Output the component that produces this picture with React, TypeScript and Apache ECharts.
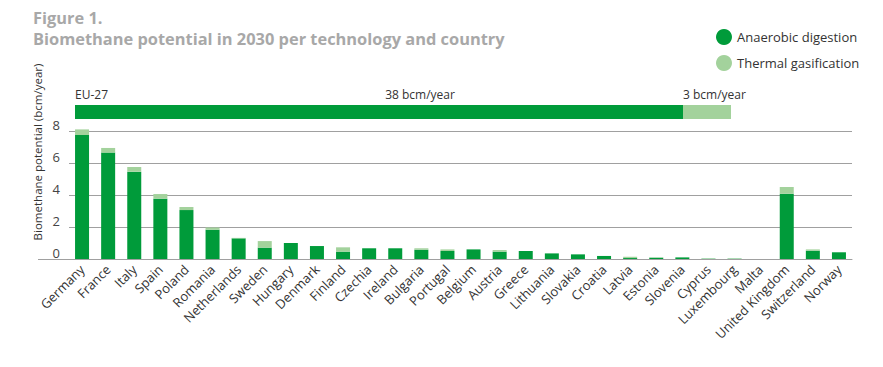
import React, { useEffect, useRef } from "react";
import * as echarts from "echarts";

const countries = [
  "Germany", "France", "Italy", "Spain", "Poland", "Romania", "Netherlands", "Sweden",
  "Hungary", "Denmark", "Finland", "Czechia", "Ireland", "Bulgaria", "Portugal", "Belgium",
  "Austria", "Greece", "Lithuania", "Slovakia", "Croatia", "Latvia", "Estonia", "Slovenia",
  "Cyprus", "Luxembourg", "Malta", "United Kingdom", "Switzerland", "Norway",
];
const anaerobic = [
  7.75, 6.65, 5.46, 3.77, 3.06, 1.83, 1.29, 0.71, 1.0, 0.81, 0.46, 0.67, 0.67, 0.58, 0.5, 0.6,
  0.46, 0.5, 0.35, 0.29, 0.19, 0.06, 0.08, 0.1, 0.02, 0.02, 0, 4.08, 0.52, 0.42,
];
const thermal = [
  0.35, 0.29, 0.29, 0.29, 0.19, 0.14, 0.03, 0.41, 0.0, 0.0, 0.27, 0.0, 0.0, 0.09, 0.1, 0.0,
  0.1, 0.0, 0.0, 0.0, 0.0, 0.08, 0.02, 0.0, 0.02, 0.02, 0, 0.42, 0.08, 0,
];
const euCategory = ["EU-27"];
const euAnaerobic = [38];
const euThermal = [3];
const yTicks = [0, 2, 4, 6, 8];

const DARK = "#009b3a";
const LIGHT = "#a3d29c";
const FONT = "Open Sans";

export default function App() {
  const ref = useRef<HTMLDivElement>(null);
  useEffect(() => {
    const chart = echarts.init(ref.current!, null, { renderer: "svg" });
    chart.setOption({
      animation: false,
      textStyle: { fontFamily: FONT },
      legend: {
        orient: "vertical",
        left: 716,
        top: 29,
        padding: 0,
        icon: "circle",
        itemWidth: 16,
        itemHeight: 16,
        itemGap: 10,
        data: ["Anaerobic digestion", "Thermal gasification"],
        textStyle: { fontSize: 13, color: "#333", fontFamily: FONT },
      },
      grid: [
        { left: 69, width: 783, top: 131, height: 128 },
        { left: 75, width: 656, top: 105, height: 14 },
      ],
      xAxis: [
        {
          type: "category",
          gridIndex: 0,
          data: countries,
          axisTick: { show: false },
          axisLine: { lineStyle: { color: "#a0a0a0" } },
          axisLabel: {
            rotate: 45,
            interval: 0,
            fontSize: 13,
            color: "#333",
            margin: 8,
            fontFamily: FONT,
          },
        },
        {
          type: "value",
          gridIndex: 1,
          min: 0,
          max: euAnaerobic[0] + euThermal[0],
          show: false,
        },
      ],
      yAxis: [
        {
          type: "value",
          gridIndex: 0,
          min: yTicks[0],
          max: yTicks[yTicks.length - 1],
          interval: 2,
          axisLine: { show: false },
          axisTick: { show: false },
          splitLine: { lineStyle: { color: "#a0a0a0", width: 1 } },
          axisLabel: {
            fontSize: 13,
            color: "#444",
            margin: 9,
            verticalAlign: "bottom",
            fontFamily: FONT,
          },
        },
        {
          type: "category",
          gridIndex: 1,
          data: euCategory,
          show: false,
        },
      ],
      series: [
        {
          name: "Anaerobic digestion",
          type: "bar",
          stack: "c",
          xAxisIndex: 0,
          yAxisIndex: 0,
          data: anaerobic,
          barWidth: 14,
          clip: false,
          itemStyle: { color: DARK },
        },
        {
          name: "Thermal gasification",
          type: "bar",
          stack: "c",
          xAxisIndex: 0,
          yAxisIndex: 0,
          data: thermal,
          barWidth: 14,
          clip: false,
          itemStyle: { color: LIGHT },
        },
        {
          name: "Anaerobic digestion",
          type: "bar",
          stack: "eu",
          xAxisIndex: 1,
          yAxisIndex: 1,
          data: euAnaerobic,
          barWidth: 14,
          itemStyle: { color: DARK },
          label: {
            show: true,
            position: [345, -11],
            align: "center",
            verticalAlign: "middle",
            formatter: "{c} bcm/year",
            fontSize: 12,
            color: "#333",
            fontFamily: FONT,
          },
        },
        {
          name: "Thermal gasification",
          type: "bar",
          stack: "eu",
          xAxisIndex: 1,
          yAxisIndex: 1,
          data: euThermal,
          barWidth: 14,
          itemStyle: { color: LIGHT },
          label: {
            show: true,
            position: [0, -11],
            align: "left",
            verticalAlign: "middle",
            formatter: "{c} bcm/year",
            fontSize: 12,
            color: "#333",
            fontFamily: FONT,
          },
        },
      ],
      graphic: [
        {
          type: "text",
          left: 33,
          top: 9,
          style: {
            text: "Figure 1.",
            fontSize: 16.4,
            fontWeight: "bold",
            fill: "#a8a8a8",
            fontFamily: FONT,
          },
        },
        {
          type: "text",
          left: 33,
          top: 30,
          style: {
            text: "Biomethane potential in 2030 per technology and country",
            fontSize: 16.4,
            fontWeight: "bold",
            fill: "#a8a8a8",
            fontFamily: FONT,
          },
        },
        {
          type: "text",
          x: 75,
          y: 94,
          style: {
            text: "EU-27",
            fontSize: 12,
            fill: "#333",
            verticalAlign: "middle",
            fontFamily: FONT,
          },
        },
        {
          type: "text",
          x: 37,
          y: 152,
          rotation: Math.PI / 2,
          style: {
            text: "Biomethane potential (bcm/year)",
            fontSize: 11.5,
            fill: "#333",
            align: "center",
            verticalAlign: "middle",
            fontFamily: FONT,
          },
        },
        {
          type: "line",
          shape: { x1: 38, y1: 259.5, x2: 69, y2: 259.5 },
          style: { stroke: "#a0a0a0", lineWidth: 1 },
        },
      ],
    });
    return () => chart.dispose();
  }, []);
  return (
    <div
      ref={ref}
      style={{ position: "absolute", left: 0, top: 0, width: 883, height: 367 }}
    />
  );
}
